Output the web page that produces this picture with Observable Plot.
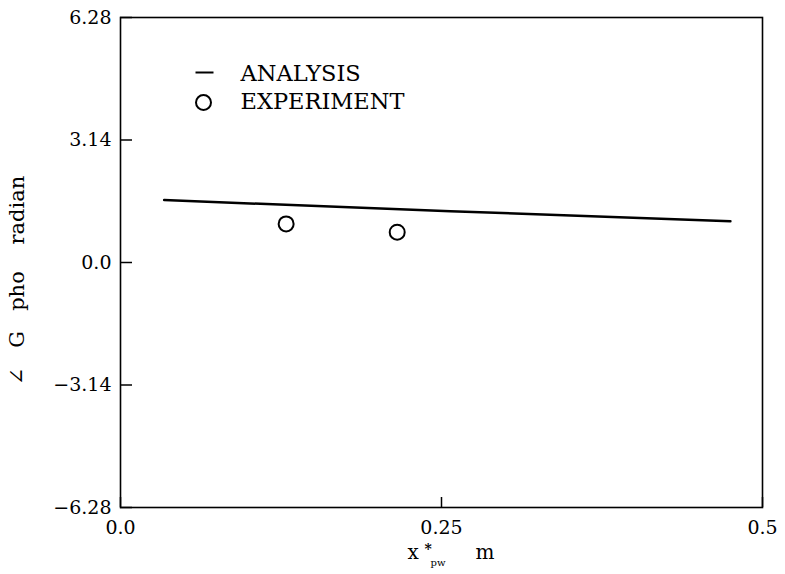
<!DOCTYPE html>
<html><head><meta charset="utf-8">
<script src="https://cdn.jsdelivr.net/npm/d3@7"></script>
<script src="https://cdn.jsdelivr.net/npm/@observablehq/plot@0.6"></script>
<style>body{margin:0;background:#fff}</style>
</head><body><div id="chart"></div>
<script>
const analysisX = [0.034, 0.257, 0.475];
const analysisY = [1.60, 1.315, 1.06];
const experimentX = [0.129, 0.2155];
const experimentY = [0.99, 0.777];
const xTicks = [0, 0.25, 0.5];
const xTickLabels = ["0.0", "0.25", "0.5"];
const yTicks = [-6.28, -3.14, 0, 3.14, 6.28];
const yTickLabels = ["\u22126.28", "\u22123.14", "0.0", "3.14", "6.28"];
const legendLabels = ["ANALYSIS", "EXPERIMENT"];
const yLabel = "\u2220\u00A0\u00A0\u00A0G\u00A0\u00A0\u00A0pho\u00A0\u00A0\u00A0\u00A0radian";
const xLabelParts = ["x", "*", "pw", "m"];

const analysis = analysisX.map((x, i) => ({x, y: analysisY[i]}));
const experiment = experimentX.map((x, i) => ({x, y: experimentY[i]}));

const FONT = "DejaVu Serif";
const dash = {draw(ctx) { ctx.moveTo(-9, 0); ctx.lineTo(9, 0); }};
const txt = (d) => d;

const plot = Plot.plot({
  width: 785, height: 574,
  marginLeft: 120, marginRight: 23, marginTop: 17, marginBottom: 67,
  x: {domain: [0, 0.5]},
  y: {domain: [-6.28, 6.28]},
  style: {background: "white", color: "black"},
  marks: [
    Plot.axisY(yTicks, {tickSize: -12, strokeWidth: 1.5, text: null, label: null}),
    Plot.axisX(xTicks, {tickSize: -10, strokeWidth: 1.5, text: null, label: null}),
    Plot.text(yTicks, {y: d => d, text: (d, i) => yTickLabels[i], frameAnchor: "left", dx: -9, textAnchor: "end", lineAnchor: "middle", fontSize: 19, fontFamily: FONT, fill: "black"}),
    Plot.text(xTicks, {x: d => d, text: (d, i) => xTickLabels[i], frameAnchor: "bottom", dy: 20, textAnchor: "middle", lineAnchor: "middle", fontSize: 19, fontFamily: FONT, fill: "black"}),
    Plot.frame({stroke: "black", strokeWidth: 1.6}),
    Plot.line(analysis, {x: "x", y: "y", stroke: "black", strokeWidth: 2.5}),
    Plot.dot(experiment, {x: "x", y: "y", r: 7.5, stroke: "black", strokeWidth: 2, fill: "white"}),
    Plot.dot([legendLabels[0]], {frameAnchor: "top-left", dx: 84, dy: 55, symbol: dash, stroke: "black", strokeWidth: 2}),
    Plot.dot([legendLabels[1]], {frameAnchor: "top-left", dx: 83, dy: 85, r: 7.5, stroke: "black", strokeWidth: 2, fill: "none"}),
    Plot.text([legendLabels[0]], {text: txt, frameAnchor: "top-left", dx: 120, dy: 56, textAnchor: "start", lineAnchor: "middle", fontSize: 22.5, fontFamily: FONT, fill: "black"}),
    Plot.text([legendLabels[1]], {text: txt, frameAnchor: "top-left", dx: 120, dy: 84, textAnchor: "start", lineAnchor: "middle", fontSize: 22.5, fontFamily: FONT, fill: "black"}),
    Plot.text([yLabel], {text: txt, frameAnchor: "left", dx: -103, dy: 18, rotate: -90, textAnchor: "middle", lineAnchor: "middle", fontSize: 21, fontFamily: FONT, fill: "black"}),
    Plot.text([xLabelParts[0]], {text: txt, frameAnchor: "bottom", dx: -34, dy: 45, textAnchor: "start", lineAnchor: "middle", fontSize: 20, fontFamily: FONT, fill: "black"}),
    Plot.text([xLabelParts[1]], {text: txt, frameAnchor: "bottom", dx: -17, dy: 42, textAnchor: "start", lineAnchor: "middle", fontSize: 14, fontWeight: "bold", fontFamily: FONT, fill: "black"}),
    Plot.text([xLabelParts[2]], {text: txt, frameAnchor: "bottom", dx: -11, dy: 55, textAnchor: "start", lineAnchor: "middle", fontSize: 10, fontFamily: FONT, fill: "black"}),
    Plot.text([xLabelParts[3]], {text: txt, frameAnchor: "bottom", dx: 34, dy: 45, textAnchor: "start", lineAnchor: "middle", fontSize: 20, fontFamily: FONT, fill: "black"})
  ]
});
document.getElementById("chart").appendChild(plot);
</script></body></html>
